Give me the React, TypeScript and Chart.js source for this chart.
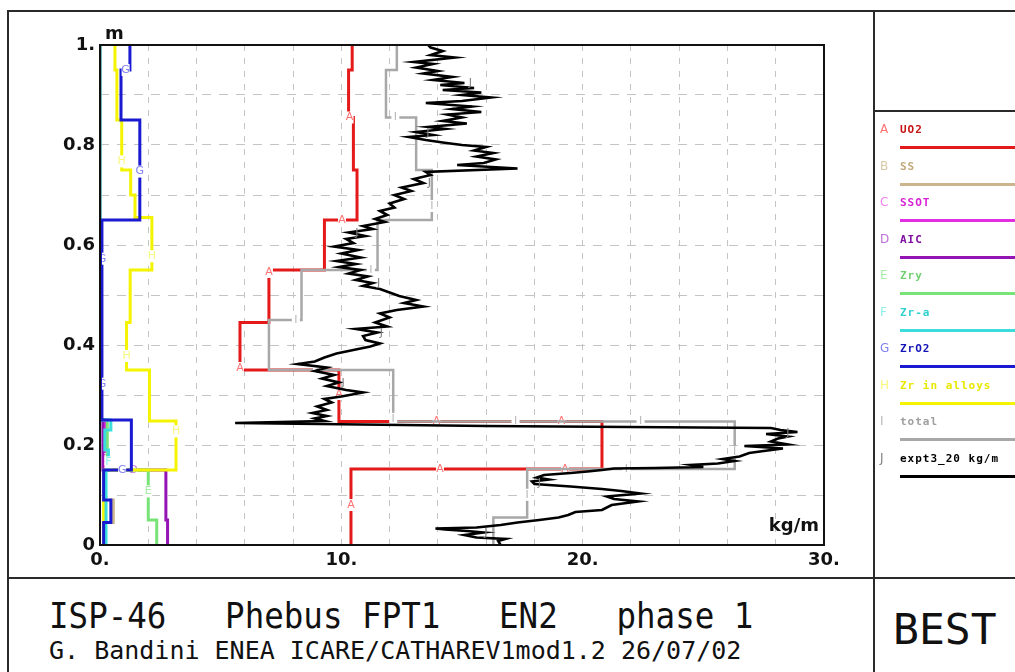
import React, { useEffect, useRef } from 'react';
import { Chart, registerables } from 'chart.js';
Chart.register(...registerables);

// ---- Series data: step profiles (boundary heights in m, values in kg/m per segment) ----
const uo2Heights = [0, 0.152, 0.247, 0.35, 0.445, 0.55, 0.65, 0.75, 0.855, 0.95, 1.0];
const uo2Values = [10.4, 20.8, 9.9, 5.8, 7.0, 9.3, 10.65, 10.5, 10.3, 10.45];

const ssHeights = [0, 0.045, 0.09, 0.25, 1.0];
const ssValues = [0.15, 0.55, 0.15, 0.0];

const ssotHeights = [0, 0.25, 1.0];
const ssotValues = [0.2, 0.0];

const aicHeights = [0, 0.05, 0.15, 0.25, 1.0];
const aicValues = [2.8, 2.73, 0.12, 0.0];

const zryHeights = [0, 0.05, 0.15, 0.25, 1.0];
const zryValues = [2.35, 2.0, 0.3, 0.0];

const zraHeights = [0, 0.15, 0.19, 0.23, 0.25, 1.0];
const zraValues = [0.25, 0.35, 0.2, 0.45, 0.0];

const zro2Heights = [0, 0.045, 0.09, 0.15, 0.25, 0.65, 0.85, 0.95, 1.0];
const zro2Values = [0.15, 0.45, 0.15, 1.3, 0.08, 1.65, 0.87, 1.24];

const zrAlloyHeights = [0, 0.15, 0.248, 0.35, 0.445, 0.55, 0.655, 0.7, 0.75, 0.85, 0.95, 1.0];
const zrAlloyValues = [0.15, 3.15, 2.05, 1.1, 1.25, 2.15, 1.45, 1.27, 0.9, 0.7, 0.62];

const totalHeights = [0, 0.055, 0.152, 0.247, 0.35, 0.45, 0.55, 0.65, 0.75, 0.855, 0.95, 1.0];
const totalValues = [16.3, 17.7, 26.3, 12.15, 7.0, 8.35, 11.5, 13.75, 13.1, 11.85, 12.3];

// ---- Experimental profile (kg/m vs height m) ----
const exptValues = [
  16.6, 16.5, 16.8, 15.6, 15.1, 15.9, 15.2, 14.3, 13.9, 15.6, 16.6, 17.3, 18.2, 19.0, 19.4, 19.7,
  20.8, 21.2, 22.3, 21.3, 21.0, 22.4, 21.6, 20.8, 19.5, 18.0, 17.9, 18.6, 18.1, 18.4, 19.5, 20.2,
  20.8, 21.3, 23.0, 25.0, 24.5, 25.6, 26.3, 25.8, 26.5, 26.9, 27.5, 28.3, 26.7, 28.5, 27.8, 28.1,
  28.5, 27.6, 28.9, 28.2, 27.8, 16.0, 5.6, 9.3, 8.9, 9.4, 8.8, 9.4, 9.0, 9.6, 9.3, 10.0, 10.9,
  10.2, 9.4, 9.9, 9.2, 9.7, 8.9, 9.4, 8.2, 8.9, 9.3, 9.8, 10.5, 11.2, 11.6, 11.0, 10.9, 11.5,
  10.6, 11.9, 11.4, 12.0, 11.6, 12.3, 13.4, 12.6, 13.1, 12.4, 12.0, 11.6, 10.9, 11.3, 10.6, 11.1,
  10.3, 10.8, 9.9, 10.6, 9.8, 10.8, 10.0, 10.7, 9.7, 10.5, 10.2, 11.0, 10.3, 11.3, 10.9, 11.8,
  11.4, 11.9, 11.6, 12.2, 12.0, 12.6, 12.2, 12.9, 12.5, 13.4, 13.0, 13.7, 13.5, 17.3, 14.8, 15.9,
  16.4, 15.6, 16.3, 15.5, 16.0, 15.0, 14.2, 13.5, 12.8, 13.8, 13.1, 14.3, 13.6, 15.2, 14.2, 15.0,
  14.4, 15.8, 14.6, 15.4, 13.5, 15.0, 16.2, 15.0, 15.8, 14.2, 15.5, 14.1, 15.1, 13.8, 14.6, 13.4,
  14.0, 13.1, 13.8, 13.0, 14.7, 13.7, 14.2, 13.7, 13.6,
];
const exptHeights = [
  0.0, 0.008, 0.012, 0.015, 0.02, 0.025, 0.028, 0.031, 0.033, 0.035, 0.04, 0.045, 0.05, 0.055, 0.06, 0.066,
  0.07, 0.08, 0.087, 0.092, 0.097, 0.103, 0.108, 0.112, 0.117, 0.122, 0.127, 0.131, 0.135, 0.14, 0.144, 0.147,
  0.15, 0.153, 0.154, 0.156, 0.16, 0.163, 0.168, 0.172, 0.177, 0.184, 0.188, 0.193, 0.198, 0.201, 0.207, 0.213,
  0.217, 0.222, 0.226, 0.23, 0.234, 0.238, 0.244, 0.248, 0.253, 0.258, 0.264, 0.27, 0.277, 0.285, 0.292, 0.297, 0.305,
  0.31, 0.318, 0.325, 0.333, 0.34, 0.348, 0.355, 0.362, 0.367, 0.375, 0.383, 0.39, 0.397, 0.403, 0.41, 0.418, 0.425,
  0.432, 0.437, 0.445, 0.455, 0.463, 0.47, 0.477, 0.484, 0.49, 0.498, 0.505, 0.512, 0.518, 0.524, 0.53, 0.537,
  0.543, 0.55, 0.556, 0.562, 0.568, 0.575, 0.583, 0.59, 0.597, 0.604, 0.612, 0.618, 0.625, 0.632, 0.638, 0.646,
  0.652, 0.66, 0.668, 0.675, 0.683, 0.692, 0.7, 0.708, 0.715, 0.724, 0.732, 0.74, 0.746, 0.753, 0.76, 0.764,
  0.771, 0.777, 0.784, 0.789, 0.796, 0.8, 0.805, 0.81, 0.816, 0.82, 0.826, 0.832, 0.836, 0.843, 0.848, 0.855,
  0.861, 0.866, 0.872, 0.877, 0.884, 0.888, 0.895, 0.9, 0.905, 0.91, 0.914, 0.92, 0.924, 0.93, 0.936, 0.943,
  0.948, 0.955, 0.962, 0.966, 0.975, 0.98, 0.988, 0.995, 1.0,
];

// ---- Legend / series metadata ----
const seriesLetters = ['A', 'B', 'C', 'D', 'E', 'F', 'G', 'H', 'I', 'J'];
const seriesNames = ['UO2', 'SS', 'SSOT', 'AIC', 'Zry', 'Zr-a', 'ZrO2', 'Zr in alloys', 'total', 'expt3_20 kg/m'];
const seriesColors = ['#e41a1a', '#ccb48e', '#e22ee2', '#9414b4', '#78e478', '#3cdcdc', '#1a1ad0', '#f4f400', '#a8a8a8', '#000000'];
const seriesTextColors = ['#c81414', '#c0a878', '#d820d8', '#8010a0', '#70d070', '#30d0d0', '#1414b8', '#e8e800', '#a0a0a0', '#000000'];
const seriesMarkerColors = ['#ff7070', '#d8c8a8', '#f080f0', '#c070d8', '#a8eca8', '#90eeee', '#8080f0', '#f8f880', '#b8b8b8', '#808080'];

// ---- Axis ticks ----
const xTickValues = [0, 10, 20, 30];
const xTickLabels = ['0.', '10.', '20.', '30.'];
const yTickValues = [0, 0.2, 0.4, 0.6, 0.8, 1.0];
const yTickLabels = ['0', '0.2', '0.4', '0.6', '0.8', '1.'];

const footerLine1 = 'ISP-46   Phebus FPT1   EN2   phase 1';
const footerLine2 = 'G. Bandini ENEA ICARE/CATHAREV1mod1.2 26/07/02';
const footerRight = 'BEST';

function stepPoints(heights: number[], values: number[]) {
  const pts: { x: number; y: number }[] = [];
  for (let i = 0; i < values.length; i++) {
    pts.push({ x: values[i], y: heights[i] });
    pts.push({ x: values[i], y: heights[i + 1] });
  }
  return pts;
}

const stepSeries: [number[], number[]][] = [
  [uo2Heights, uo2Values],
  [ssHeights, ssValues],
  [ssotHeights, ssotValues],
  [aicHeights, aicValues],
  [zryHeights, zryValues],
  [zraHeights, zraValues],
  [zro2Heights, zro2Values],
  [zrAlloyHeights, zrAlloyValues],
  [totalHeights, totalValues],
];

const drawOrder = [2, 8, 7, 6, 5, 4, 3, 4, 1, 0];

const framePlugin = {
  id: 'plotFrame',
  afterDatasetsDraw(chart: any) {
    const { ctx, chartArea: a } = chart;
    ctx.save();
    ctx.strokeStyle = '#111';
    ctx.lineWidth = 2;
    ctx.strokeRect(a.left, a.top, a.right - a.left, a.bottom - a.top);
    ctx.fillStyle = '#111';
    ctx.font = 'bold 18px "DejaVu Sans"';
    ctx.textBaseline = 'bottom';
    ctx.textAlign = 'left';
    ctx.fillText('m', a.left + 5, a.top - 2);
    ctx.textAlign = 'right';
    ctx.fillText('kg/m', a.right - 5, a.bottom - 10);
    ctx.restore();
  },
};

// letters placed along each line at regular intervals (path length for steps, height for the experiment)
const markerPlugin = {
  id: 'letterMarkers',
  afterDatasetDraw(chart: any, args: any) {
    const i = args.index;
    const meta = args.meta;
    const pts = meta.data;
    const raw = chart.data.datasets[i].data;
    const { ctx, chartArea: a } = chart;
    const isExpt = i === 9;
    const spacing = isExpt ? 50 : 125;
    let next = isExpt ? 12 : 40 + ((i * 23) % 70);
    let acc = 0;
    ctx.save();
    ctx.beginPath();
    ctx.rect(a.left + 2, a.top + 2, a.right - a.left - 4, a.bottom - a.top - 4);
    ctx.clip();
    ctx.font = '11px "DejaVu Sans"';
    ctx.textAlign = 'center';
    ctx.textBaseline = 'middle';
    for (let k = 1; k < pts.length; k++) {
      const x0 = pts[k - 1].x, y0 = pts[k - 1].y, x1 = pts[k].x, y1 = pts[k].y;
      const seg = isExpt ? Math.abs(y1 - y0) : Math.hypot(x1 - x0, y1 - y0);
      const onAxis = raw[k - 1].x < 0.05 && raw[k].x < 0.05;
      while (acc + seg >= next) {
        const t = seg > 0 ? (next - acc) / seg : 0;
        const px = x0 + t * (x1 - x0);
        const py = y0 + t * (y1 - y0);
        if (!onAxis) {
          if (!isExpt) {
            ctx.fillStyle = '#ffffff';
            ctx.fillRect(px - 4, py - 6, 8, 12);
          }
          ctx.fillStyle = seriesMarkerColors[i];
          ctx.fillText(seriesLetters[i], isExpt ? px + 6 : px, py);
        }
        next += spacing;
      }
      acc += seg;
    }
    ctx.restore();
  },
};

export default function App() {
  const canvasRef = useRef<HTMLCanvasElement | null>(null);

  useEffect(() => {
    if (!canvasRef.current) return;
    const datasets: any[] = stepSeries.map(([h, v], i) => ({
      label: seriesNames[i],
      data: stepPoints(h, v),
      borderColor: seriesColors[i],
      borderWidth: i === 8 ? 2.5 : 3,
      showLine: true,
      pointRadius: 0,
      fill: false,
      order: drawOrder[i],
    }));
    datasets.push({
      label: seriesNames[9],
      data: exptValues.map((x, i) => ({ x, y: exptHeights[i] })),
      borderColor: seriesColors[9],
      borderWidth: 2.6,
      showLine: true,
      pointRadius: 0,
      fill: false,
      order: drawOrder[9],
    });

    const gridColor = '#c4c4c4';
    const tickFont = { family: 'DejaVu Sans', size: 18, weight: 'bold' };
    const chart = new Chart(canvasRef.current, {
      type: 'scatter',
      data: { datasets },
      plugins: [markerPlugin, framePlugin],
      options: {
        animation: false,
        responsive: false,
        layout: { padding: { left: 0, top: 45, right: 50, bottom: 0 } },
        plugins: { legend: { display: false }, tooltip: { enabled: false } },
        scales: {
          x: {
            type: 'linear',
            min: 0,
            max: 30,
            afterFit: (s: any) => { s.height = 33; },
            border: { display: false, dash: [6, 7] },
            grid: { color: gridColor, lineWidth: 1, drawTicks: false },
            ticks: {
              stepSize: 2,
              autoSkip: false,
              maxRotation: 0,
              padding: 5,
              color: '#111',
              font: tickFont,
              callback: (val: any) => {
                const idx = xTickValues.findIndex((t) => Math.abs(t - Number(val)) < 1e-6);
                return idx >= 0 ? xTickLabels[idx] : '';
              },
            },
          },
          y: {
            type: 'linear',
            min: 0,
            max: 1,
            afterFit: (s: any) => { s.width = 100; },
            border: { display: false, dash: [9, 8] },
            grid: { color: gridColor, lineWidth: 1, drawTicks: false },
            ticks: {
              stepSize: 0.1,
              autoSkip: false,
              padding: 5,
              color: '#111',
              font: tickFont,
              callback: (val: any) => {
                const idx = yTickValues.findIndex((t) => Math.abs(t - Number(val)) < 1e-6);
                return idx >= 0 ? yTickLabels[idx] : '';
              },
            },
          },
        },
      } as any,
    });
    return () => chart.destroy();
  }, []);

  const line = (style: React.CSSProperties) => (
    <div style={{ position: 'absolute', background: '#2a2a2a', ...style }} />
  );

  return (
    <div style={{ position: 'fixed', left: 0, top: 0, width: 1015, height: 672, background: '#fff', overflow: 'hidden' }}>
      <canvas ref={canvasRef} width={874} height={578} style={{ position: 'absolute', left: 0, top: 0, width: 874, height: 578 }} />
      {line({ left: 7, top: 10, width: 1008, height: 2 })}
      {line({ left: 7, top: 10, width: 2, height: 662 })}
      {line({ left: 873, top: 10, width: 2, height: 662 })}
      {line({ left: 7, top: 577, width: 1008, height: 2 })}
      {line({ left: 873, top: 110, width: 142, height: 2 })}
      {seriesNames.map((name, i) => (
        <div key={name} style={{ position: 'absolute', left: 875, top: 122 + i * 36.5, width: 140, height: 30 }}>
          <span style={{ position: 'absolute', left: 5, top: 0, font: '12px "DejaVu Sans"', color: seriesMarkerColors[i] }}>{seriesLetters[i]}</span>
          <span style={{ position: 'absolute', left: 25, top: 1, font: 'bold 11px "DejaVu Sans Mono"', letterSpacing: 1, color: seriesTextColors[i], whiteSpace: 'pre' }}>{name}</span>
          <div style={{ position: 'absolute', left: 25, top: 24, width: 120, height: 3, background: seriesColors[i] }} />
        </div>
      ))}
      <div style={{ position: 'absolute', left: 49, top: 594, font: '32.5px "DejaVu Sans Mono"', color: '#111', whiteSpace: 'pre', lineHeight: '40px', transform: 'scaleY(1.1)', transformOrigin: 'left top' }}>{footerLine1}</div>
      <div style={{ position: 'absolute', left: 49, top: 637, font: '25px "DejaVu Sans Mono"', color: '#111', whiteSpace: 'pre', lineHeight: '28px' }}>{footerLine2}</div>
      <div style={{ position: 'absolute', left: 893, top: 604, font: '43px "DejaVu Sans Mono"', color: '#111', whiteSpace: 'pre', lineHeight: '50px' }}>{footerRight}</div>
    </div>
  );
}
